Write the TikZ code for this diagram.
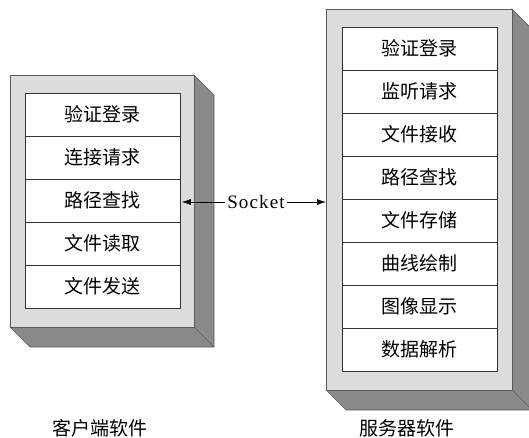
\documentclass[tikz,border=0pt]{standalone}
\usepackage{fontspec}
\setmainfont{Liberation Serif}
\newfontfamily\cjk{Noto Sans CJK SC}
\newfontfamily\sockfont[LetterSpace=6]{Liberation Serif}
\usetikzlibrary{arrows.meta}
\definecolor{frontgray}{HTML}{DCDCDC}
\definecolor{sidegray}{HTML}{8A8A8A}
\definecolor{edgegray}{HTML}{5A5A5A}
\tikzset{
  frontface/.style={fill=frontgray, draw=edgegray, line width=0.6pt},
  sideface/.style={fill=sidegray, draw=edgegray, line width=0.6pt},
  cellbox/.style={draw=black!80, fill=white, line width=0.6pt, minimum width=155pt, minimum height=43pt, inner sep=0pt, font=\cjk\fontsize{19}{19}\selectfont},
  captext/.style={font=\cjk\fontsize{19}{19}\selectfont, inner sep=0pt},
  conn/.style={-{Latex[length=9pt,width=6pt]}, line width=0.7pt, black}
}
\begin{document}
\begin{tikzpicture}[x=1pt,y=-1pt]
\useasboundingbox (0,0) rectangle (529,438);
% left block
\filldraw[sideface] (194,75) -- (214,95) -- (214,347) -- (30,347) -- (10,327) -- (194,327) -- cycle;
\draw[edgegray, line width=0.6pt] (194,327) -- (214,347);
\draw[frontface] (10,75) rectangle (194,327);
\foreach \t [count=\i from 0] in {验证登录,连接请求,路径查找,文件读取,文件发送}{
  \node[cellbox] (L\i) at (102.5,{114.5+43*\i}) {\t};
}
% right block
\filldraw[sideface] (512,9) -- (532,29) -- (532,410) -- (346,410) -- (326,390) -- (512,390) -- cycle;
\draw[edgegray, line width=0.6pt] (512,390) -- (532,410);
\draw[frontface] (326,9) rectangle (512,390);
\foreach \t [count=\i from 0] in {验证登录,监听请求,文件接收,路径查找,文件存储,曲线绘制,图像显示,数据解析}{
  \node[cellbox] (R\i) at (419.5,{48.5+43*\i}) {\t};
}
% socket connector
\node[font=\sockfont\fontsize{19}{19}\selectfont, inner sep=2pt] (sock) at (256,202) {Socket};
\coordinate (rin) at (326,202);
\coordinate (lin) at (L2.east |- sock);
\draw[conn] (sock.west) -- ([xshift=1.5pt]lin);
\draw[conn] (sock.east) -- (rin);
% captions
\node[captext] (cl) at (100,428) {客户端软件};
\node[captext] (cr) at (407,428) {服务器软件};
\end{tikzpicture}
\end{document}
